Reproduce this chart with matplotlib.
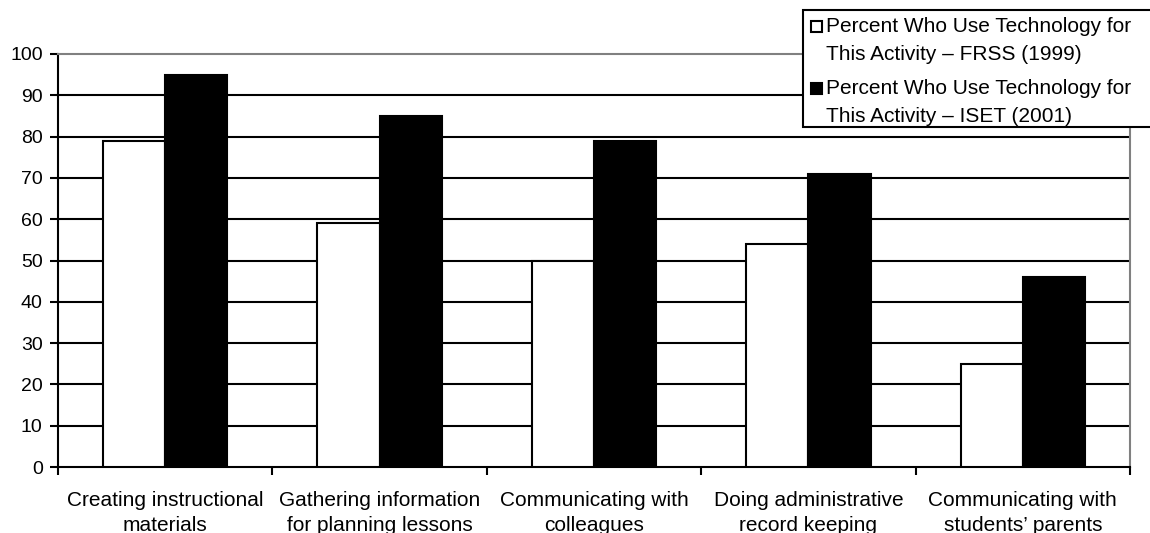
import matplotlib
matplotlib.use("Agg")
import matplotlib.pyplot as plt
import numpy as np
from matplotlib.patches import Rectangle

categories = ["Creating instructional\nmaterials",
              "Gathering information\nfor planning lessons",
              "Communicating with\ncolleagues",
              "Doing administrative\nrecord keeping",
              "Communicating with\nstudents\u2019 parents"]
frss_1999 = [79, 59, 50, 54, 25]
iset_2001 = [95, 85, 79, 71, 46]
series_labels = ["Percent Who Use Technology for\nThis Activity \u2013 FRSS (1999)",
                 "Percent Who Use Technology for\nThis Activity \u2013 ISET (2001)"]
yticks = list(range(0, 101, 10))

FS_Y = 14
FS_X = 15
FS_L = 15
W, H = 1150, 533
plt.rcParams['font.family'] = ['Liberation Sans', 'DejaVu Sans']
fig = plt.figure(figsize=(W / 100, H / 100), dpi=100)
ax = fig.add_axes([58 / W, 1 - 467 / H, (1130 - 58) / W, (467 - 54) / H])

x = np.arange(len(categories))
w = 0.29
ax.bar(x - w/2, frss_1999, width=w, color='white', edgecolor='black', linewidth=1.5, zorder=3)
ax.bar(x + w/2, iset_2001, width=w, color='black', edgecolor='black', linewidth=1.5, zorder=3)

ax.set_xlim(-0.5, len(categories) - 0.5)
ax.set_ylim(0, 100)
ax.set_yticks(yticks)
ax.tick_params(axis='y', labelsize=FS_Y, length=6, width=1.5, direction='out', pad=5)
for yv in yticks[1:-1]:
    ax.axhline(yv, color='black', linewidth=1.5, zorder=1)

ax.set_xticks(x)
ax.set_xticklabels(categories, fontsize=FS_X, linespacing=1.4)
ax.tick_params(axis='x', length=0, pad=17)
ax.set_xticks(np.arange(len(categories) + 1) - 0.5, minor=True)
ax.tick_params(axis='x', which='minor', length=6, width=1.5, direction='out')

ax.spines['left'].set_linewidth(1.5)
ax.spines['bottom'].set_linewidth(1.5)
ax.spines['top'].set_color('#808080')
ax.spines['top'].set_linewidth(1.5)
ax.spines['right'].set_color('#808080')
ax.spines['right'].set_linewidth(1.5)

# Legend box (drawn in pixel-based figure coordinates)
def fx(px):
    return px / W

def fy(py):
    return 1 - py / H

frame = Rectangle((fx(803), fy(127)), fx(1160) - fx(803), fy(10) - fy(127),
                  transform=fig.transFigure, facecolor='white', edgecolor='black',
                  linewidth=1.5, zorder=10, clip_on=False)
fig.add_artist(frame)
fills = ['white', 'black']
sq_top = [21, 83]
baselines = [(32, 60), (94, 122)]
for i, lab in enumerate(series_labels):
    sq = Rectangle((fx(811), fy(sq_top[i] + 11)), fx(11), 11 / H,
                   transform=fig.transFigure, facecolor=fills[i], edgecolor='black',
                   linewidth=1.5, zorder=11)
    fig.add_artist(sq)
    for line, b in zip(lab.split('\n'), baselines[i]):
        fig.text(fx(826), fy(b), line, fontsize=FS_L, va='baseline', ha='left', zorder=12)

fig.savefig("out.png", dpi=100)
